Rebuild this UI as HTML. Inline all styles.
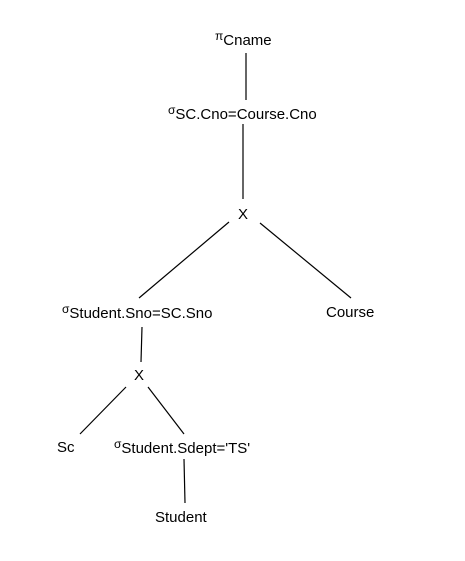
<!DOCTYPE html>
<html><head><meta charset="utf-8"><style>
html,body{margin:0;padding:0;background:#fff;}
svg{display:block;}
text{font-family:"Liberation Sans",Arial,sans-serif;fill:#000;}
</style></head><body>
<svg width="465" height="561" viewBox="0 0 465 561">
<rect width="465" height="561" fill="#fff"/>
<g stroke="#000" stroke-width="1.2">
<line x1="246" y1="53" x2="246" y2="100"/>
<line x1="243" y1="124" x2="243" y2="199"/>
<line x1="229" y1="222" x2="139" y2="298"/>
<line x1="260" y1="223" x2="351" y2="298"/>
<line x1="142" y1="327" x2="141" y2="362"/>
<line x1="126" y1="387" x2="80" y2="434"/>
<line x1="148" y1="387" x2="184" y2="434"/>
<line x1="184" y1="459" x2="185" y2="503"/>
</g>
<text x="215" y="45" font-size="15"><tspan font-size="12" dy="-5">π</tspan><tspan dy="5">Cname</tspan></text>
<text x="168" y="119" font-size="15"><tspan font-size="12" dy="-5">σ</tspan><tspan dy="5">SC.Cno=Course.Cno</tspan></text>
<text x="243" y="219" font-size="15" text-anchor="middle">X</text>
<text x="62" y="318" font-size="15"><tspan font-size="12" dy="-5">σ</tspan><tspan dy="5">Student.Sno=SC.Sno</tspan></text>
<text x="326" y="317" font-size="15">Course</text>
<text x="139" y="380" font-size="15" text-anchor="middle">X</text>
<text x="57" y="452" font-size="15">Sc</text>
<text x="114" y="453" font-size="15"><tspan font-size="12" dy="-5">σ</tspan><tspan dy="5">Student.Sdept='TS'</tspan></text>
<text x="155" y="522" font-size="15">Student</text>
</svg>
</body></html>
